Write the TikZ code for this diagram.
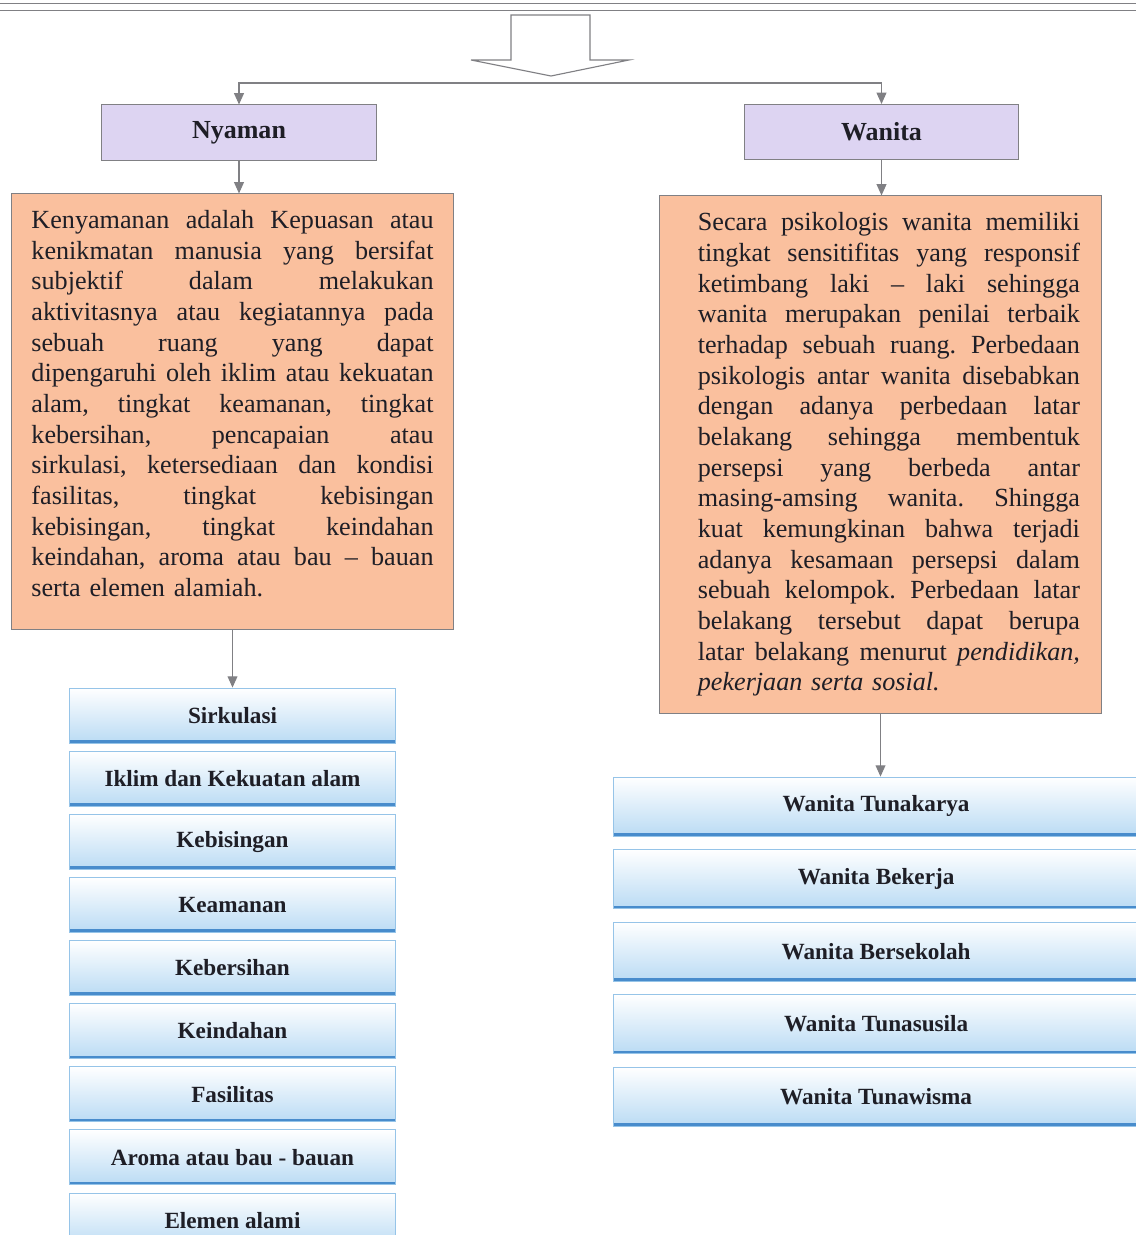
\documentclass[tikz,border=0pt]{standalone}
\usepackage{fontspec}
\setmainfont{Liberation Serif}
\usetikzlibrary{arrows.meta, positioning, calc}
\definecolor{framegray}{RGB}{128,128,132}
\definecolor{titlelav}{RGB}{221,212,242}
\definecolor{descpeach}{RGB}{250,192,158}
\definecolor{itemblue}{RGB}{186,219,244}
\definecolor{itemedge}{RGB}{150,196,232}
\definecolor{itemline}{RGB}{72,140,204}
\definecolor{inkdark}{RGB}{30,30,38}
\setlength{\parindent}{0pt}
% one justified line of a description
\newcommand{\spreadline}[1]{\hbox to \hsize{\frenchspacing
    \spaceskip=0.25em plus 1fil\relax \xspaceskip=\spaceskip #1}}
\newcommand{\lastline}[1]{\hbox to \hsize{#1\hfil}}

\begin{document}
\begin{tikzpicture}[
    x=0.025cm, y=-0.025cm,
    titlebox/.style={rectangle, draw=framegray, fill=titlelav, line width=0.7pt,
                     minimum width=6.85cm, minimum height=1.375cm, text=inkdark,
                     font=\fontsize{18.5}{22}\selectfont\bfseries},
    descbox/.style={rectangle, draw=framegray, fill=descpeach, line width=0.7pt,
                    minimum width=11.025cm},
    desctext/.style={inner sep=0pt, text=inkdark,
                     font=\fontsize{18.6}{21.8}\selectfont},
    itembox/.style={rectangle, draw=itemedge, line width=0.5pt,
                    top color=white, bottom color=itemblue,
                    minimum height=1.375cm, text=inkdark,
                    font=\fontsize{16.5}{19}\selectfont\bfseries,
                    path picture={\draw[itemline, line width=4.2pt]
                        (path picture bounding box.south west) --
                        (path picture bounding box.south east);}},
    arrow/.style={-{Triangle[width=7pt,length=8pt]}, line width=0.8pt, framegray},
    blockarrow/.style={draw=framegray, fill=white, line width=0.8pt},
    rule/.style={framegray, line width=1pt}
]
\useasboundingbox (0,0) rectangle (1136,1235);

% edge of the frame above
\draw[rule, line width=1.3pt] (0,3.5) -- (1136,3.5);
\draw[rule, line width=0.7pt] (0,10) -- (1136,10);

% big arrow
\draw[blockarrow] (511,15) -- (590,15) -- (590,60) -- (629,60) -- (551,76)
    -- (471,60) -- (511,60) -- cycle;

\node[titlebox] (Nyaman) at (239,132.5) {Nyaman};
\node[titlebox] (Wanita) at (881.5,132) {Wanita};
\coordinate (fork) at (560,83);
\draw[arrow] (fork) -| (Nyaman.north);
\draw[arrow] (fork) -| (Wanita.north);

% descriptions
\node[descbox, minimum height=10.875cm] (NyamanDesc) at (232.5,411.5) {};
\node[desctext, text width=10.05cm, yshift=0.2cm] (NyamanText) at (NyamanDesc.center) {%
\spreadline{Kenyamanan adalah Kepuasan atau}
\spreadline{kenikmatan manusia yang bersifat}
\spreadline{subjektif dalam melakukan}
\spreadline{aktivitasnya atau kegiatannya pada}
\spreadline{sebuah ruang yang dapat}
\spreadline{dipengaruhi oleh iklim atau kekuatan}
\spreadline{alam, tingkat keamanan, tingkat}
\spreadline{kebersihan, pencapaian atau}
\spreadline{sirkulasi, ketersediaan dan kondisi}
\spreadline{fasilitas, tingkat kebisingan}
\spreadline{kebisingan, tingkat keindahan}
\spreadline{keindahan, aroma atau bau – bauan}
\lastline{serta elemen alamiah.}};

\node[descbox, minimum height=12.925cm] (WanitaDesc) at (880.5,454.5) {};
\node[desctext, text width=9.55cm, xshift=0.21cm] (WanitaText) at (WanitaDesc.center) {%
\spreadline{Secara psikologis wanita memiliki}
\spreadline{tingkat sensitifitas yang responsif}
\spreadline{ketimbang laki – laki sehingga}
\spreadline{wanita merupakan penilai terbaik}
\spreadline{terhadap sebuah ruang. Perbedaan}
\spreadline{psikologis antar wanita disebabkan}
\spreadline{dengan adanya perbedaan latar}
\spreadline{belakang sehingga membentuk}
\spreadline{persepsi yang berbeda antar}
\spreadline{masing-amsing wanita. Shingga}
\spreadline{kuat kemungkinan bahwa terjadi}
\spreadline{adanya kesamaan persepsi dalam}
\spreadline{sebuah kelompok. Perbedaan latar}
\spreadline{belakang tersebut dapat berupa}
\spreadline{latar belakang menurut \textit{pendidikan,}}
\lastline{\textit{pekerjaan serta sosial.}}};

\draw[arrow] (Nyaman.south) -- (Nyaman.south |- NyamanDesc.north);
\draw[arrow] (Wanita.south) -- (Wanita.south |- WanitaDesc.north);

% comfort factors
\node[itembox, minimum width=8.15cm, below=1.45cm of NyamanDesc] (Sirkulasi) {Sirkulasi};
\node[itembox, minimum width=8.15cm, below=0.185cm of Sirkulasi] (Iklim) {Iklim dan Kekuatan alam};
\node[itembox, minimum width=8.15cm, below=0.185cm of Iklim] (Bising) {Kebisingan};
\node[itembox, minimum width=8.15cm, below=0.185cm of Bising] (Aman) {Keamanan};
\node[itembox, minimum width=8.15cm, below=0.185cm of Aman] (Bersih) {Kebersihan};
\node[itembox, minimum width=8.15cm, below=0.185cm of Bersih] (Indah) {Keindahan};
\node[itembox, minimum width=8.15cm, below=0.185cm of Indah] (Fasilitas) {Fasilitas};
\node[itembox, minimum width=8.15cm, below=0.185cm of Fasilitas] (Aroma) {Aroma atau bau - bauan};
\node[itembox, minimum width=8.15cm, below=0.185cm of Aroma] (Elemen) {Elemen alami};
\draw[arrow] (NyamanDesc.south) -- (NyamanDesc.south |- Sirkulasi.north);

% groups of women
\node[itembox, minimum width=13.15cm, minimum height=1.475cm,
      below=1.575cm of WanitaDesc, xshift=-0.11cm] (Tunakarya) {Wanita Tunakarya};
\node[itembox, minimum width=13.15cm, minimum height=1.475cm, below=0.32cm of Tunakarya] (Bekerja) {Wanita Bekerja};
\node[itembox, minimum width=13.15cm, minimum height=1.475cm, below=0.32cm of Bekerja] (Sekolah) {Wanita Bersekolah};
\node[itembox, minimum width=13.15cm, minimum height=1.475cm, below=0.32cm of Sekolah] (Tunasusila) {Wanita Tunasusila};
\node[itembox, minimum width=13.15cm, minimum height=1.475cm, below=0.32cm of Tunasusila] (Tunawisma) {Wanita Tunawisma};
\draw[arrow] (WanitaDesc.south) -- (WanitaDesc.south |- Tunakarya.north);
\end{tikzpicture}
\end{document}
